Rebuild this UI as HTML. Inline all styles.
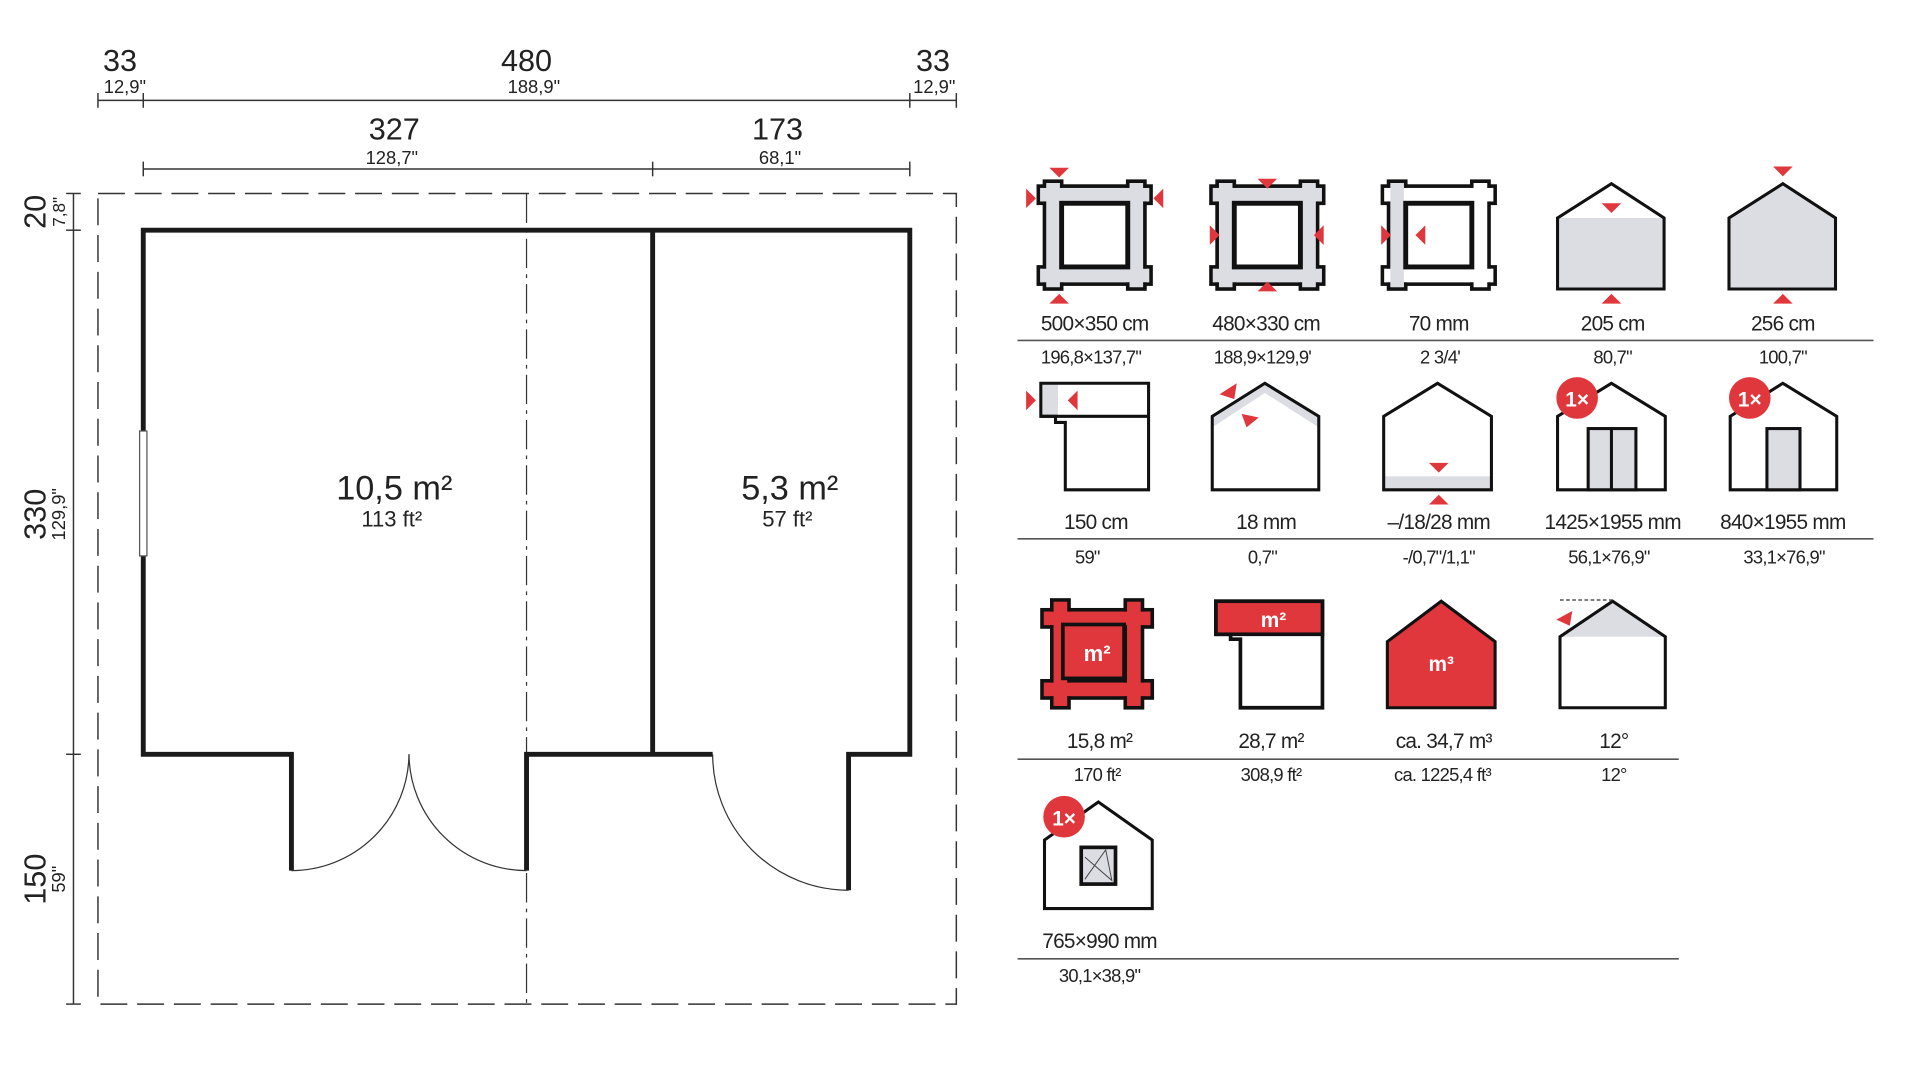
<!DOCTYPE html>
<html><head><meta charset="utf-8"><style>
html,body{margin:0;padding:0;background:#fff;width:1920px;height:1080px;overflow:hidden}
svg{display:block}
text{font-family:"Liberation Sans",sans-serif;fill:#222}
.lb{font-size:17px;text-anchor:middle;letter-spacing:-0.6px}
.sb{font-size:15px;text-anchor:middle;letter-spacing:-0.6px}
</style></head><body>
<svg width="1920" height="1080" viewBox="0 0 1568 882" preserveAspectRatio="none" xmlns="http://www.w3.org/2000/svg">
<defs>
<g id="frame">
<rect x="-46" y="-40" width="92" height="14" fill="#dcdde3" stroke="#111" stroke-width="3"/>
<rect x="-46" y="26" width="92" height="14" fill="#dcdde3" stroke="#111" stroke-width="3"/>
<rect x="-41" y="-44" width="14" height="88" fill="#dcdde3" stroke="#111" stroke-width="3"/>
<rect x="27" y="-44" width="14" height="88" fill="#dcdde3" stroke="#111" stroke-width="3"/>
<rect x="-44.5" y="-38.5" width="89" height="11" fill="#dcdde3"/>
<rect x="-44.5" y="27.5" width="89" height="11" fill="#dcdde3"/>
<rect x="-39.5" y="-42.5" width="11" height="85" fill="#dcdde3"/>
<rect x="28.5" y="-42.5" width="11" height="85" fill="#dcdde3"/>
<rect x="-27" y="-26" width="54" height="52" fill="#fff" stroke="#111" stroke-width="4"/>
</g>
</defs>
<!-- dimensions top -->
<g stroke="#333" stroke-width="1.2" fill="none">
<line x1="80" y1="82" x2="781" y2="82"/>
<line x1="80" y1="76" x2="80" y2="88"/><line x1="117" y1="76" x2="117" y2="88"/>
<line x1="743" y1="76" x2="743" y2="88"/><line x1="781" y1="76" x2="781" y2="88"/>
<line x1="117" y1="138" x2="743" y2="138"/>
<line x1="117" y1="132" x2="117" y2="144"/><line x1="533" y1="132" x2="533" y2="144"/><line x1="743" y1="132" x2="743" y2="144"/>
<line x1="60" y1="158" x2="60" y2="820"/>
<line x1="54" y1="158" x2="66" y2="158"/><line x1="54" y1="188" x2="66" y2="188"/>
<line x1="54" y1="616" x2="66" y2="616"/><line x1="54" y1="820" x2="66" y2="820"/>
</g>
<g style="font-size:25px" text-anchor="middle">
<text x="98" y="58">33</text><text x="430" y="58">480</text><text x="762" y="58">33</text>
<text x="322" y="114">327</text><text x="635" y="114">173</text>
</g>
<g style="font-size:15px" text-anchor="middle">
<text x="102" y="76">12,9"</text><text x="436" y="76">188,9"</text><text x="763" y="76">12,9"</text>
<text x="320" y="134">128,7"</text><text x="637" y="134">68,1"</text>
</g>
<g text-anchor="middle">
<text transform="translate(37,173) rotate(-90)" style="font-size:25px">20</text>
<text transform="translate(53,173) rotate(-90)" style="font-size:14px">7,8"</text>
<text transform="translate(37,420) rotate(-90)" style="font-size:25px">330</text>
<text transform="translate(53,420) rotate(-90)" style="font-size:15px">129,9"</text>
<text transform="translate(37,718) rotate(-90)" style="font-size:25px">150</text>
<text transform="translate(53,718) rotate(-90)" style="font-size:15px">59"</text>
</g>
<!-- dashed outline -->
<rect x="80" y="158" width="701" height="662" fill="none" stroke="#333" stroke-width="1.2" stroke-dasharray="22,8"/>
<line x1="430" y1="158" x2="430" y2="820" stroke="#333" stroke-width="1" stroke-dasharray="24,5,3,5"/>
<!-- walls -->
<g stroke="#1a1a1a" stroke-width="4" fill="none" stroke-linejoin="miter">
<path d="M238 711 L238 616 L117 616 L117 188 L743 188 L743 616 L693 616 L693 727"/>
<path d="M430 711 L430 616 L582 616"/>
<line x1="533" y1="188" x2="533" y2="616"/>
</g>
<g stroke="#333" stroke-width="1" fill="none">
<path d="M238 711 A96 96 0 0 0 334 616"/>
<path d="M430 711 A96 96 0 0 1 334 616"/>
<path d="M582 616 A111 111 0 0 0 693 727"/>
</g>
<rect x="114" y="352" width="6" height="102" fill="#fff" stroke="#555" stroke-width="1"/>
<text x="322" y="408" text-anchor="middle" style="font-size:28px">10,5 m²</text>
<text x="320" y="430" text-anchor="middle" style="font-size:18px">113 ft²</text>
<text x="645" y="408" text-anchor="middle" style="font-size:28px">5,3 m²</text>
<text x="643" y="430" text-anchor="middle" style="font-size:18px">57 ft²</text>

<!-- ICONS row 1 -->
<use href="#frame" x="894" y="192"/>
<use href="#frame" x="1035" y="192"/>
<g transform="translate(1175,192)">
<rect x="-46" y="-40" width="92" height="14" fill="#fff" stroke="#111" stroke-width="3"/>
<rect x="-46" y="26" width="92" height="14" fill="#fff" stroke="#111" stroke-width="3"/>
<rect x="-41" y="-44" width="14" height="88" fill="#fff" stroke="#111" stroke-width="3"/>
<rect x="27" y="-44" width="14" height="88" fill="#fff" stroke="#111" stroke-width="3"/>
<rect x="-44.5" y="-38.5" width="89" height="11" fill="#fff"/>
<rect x="-44.5" y="27.5" width="89" height="11" fill="#fff"/>
<rect x="-39.5" y="-42.5" width="11" height="85" fill="#dcdde3"/>
<rect x="28.5" y="-42.5" width="11" height="85" fill="#fff"/>
<rect x="-27" y="-26" width="54" height="52" fill="#fff" stroke="#111" stroke-width="4"/>
</g>
<g fill="#e0373d">
<path d="M857 137 L873 137 L865 145Z"/><path d="M857 248 L873 248 L865 240Z"/>
<path d="M838 154 L838 170 L846 162Z"/><path d="M950 154 L950 170 L942 162Z"/>
<path d="M1027 146 L1043 146 L1035 154Z"/><path d="M1027 238 L1043 238 L1035 230Z"/>
<path d="M988 184 L988 200 L996 192Z"/><path d="M1081 184 L1081 200 L1073 192Z"/>
<path d="M1128 184 L1128 200 L1136 192Z"/><path d="M1164 184 L1164 200 L1156 192Z"/>
</g>
<path d="M1272 178 L1359 178 L1359 236 L1272 236Z" fill="#dcdde3"/>
<path d="M1272 236 L1272 178 L1316 150 L1359 178 L1359 236Z" fill="none" stroke="#111" stroke-width="2.5"/>
<path d="M1412 236 L1412 178 L1456 150 L1499 178 L1499 236Z" fill="#dcdde3" stroke="#111" stroke-width="2.5"/>
<g fill="#e0373d">
<path d="M1308 166 L1324 166 L1316 174Z"/><path d="M1308 248 L1324 248 L1316 240Z"/>
<path d="M1448 136 L1464 136 L1456 144Z"/><path d="M1448 248 L1464 248 L1456 240Z"/>
</g>
<text class="lb" x="894" y="270">500×350 cm</text><text class="lb" x="1034" y="270">480×330 cm</text>
<text class="lb" x="1175" y="270">70 mm</text><text class="lb" x="1317" y="270">205 cm</text><text class="lb" x="1456" y="270">256 cm</text>
<line x1="831" y1="278" x2="1530" y2="278" stroke="#555" stroke-width="1.3"/>
<text class="sb" x="891" y="297">196,8×137,7"</text><text class="sb" x="1031" y="297">188,9×129,9'</text>
<text class="sb" x="1176" y="297">2  3/4'</text><text class="sb" x="1317" y="297">80,7"</text><text class="sb" x="1456" y="297">100,7"</text>

<!-- row 2 -->
<rect x="850" y="313" width="14" height="27" fill="#dcdde3"/>
<path d="M850 313 L938 313 L938 400 L870 400 L870 345 L862 345 L862 340 L850 340Z" fill="none" stroke="#111" stroke-width="2.5"/>
<line x1="850" y1="340" x2="938" y2="340" stroke="#111" stroke-width="2.5"/>
<g fill="#e0373d"><path d="M838 319 L838 335 L846 327Z"/><path d="M880 319 L880 335 L872 327Z"/></g>
<path d="M990 340 L1033 313 L1077 340 L1077 349 L1033 321 L990 349Z" fill="#dcdde3"/>
<path d="M990 400 L990 340 L1033 313 L1077 340 L1077 400Z" fill="none" stroke="#111" stroke-width="2.5"/>
<g fill="#e0373d"><path d="M996 322 L1010 313 L1008 326Z"/><path d="M1014 338 L1028 341 L1018 349Z"/></g>
<rect x="1131" y="389" width="86" height="10" fill="#dcdde3"/>
<path d="M1130 400 L1130 340 L1174 313 L1218 340 L1218 400Z" fill="none" stroke="#111" stroke-width="2.5"/>
<g fill="#e0373d"><path d="M1167 378 L1183 378 L1175 386Z"/><path d="M1167 412 L1183 412 L1175 404Z"/></g>
<path d="M1272 400 L1272 340 L1316 313 L1360 340 L1360 400Z" fill="none" stroke="#111" stroke-width="2.5"/>
<rect x="1297" y="350" width="39" height="50" fill="#dcdde3" stroke="#111" stroke-width="2.5"/>
<line x1="1316" y1="350" x2="1316" y2="400" stroke="#111" stroke-width="2.5"/>
<path d="M1413 400 L1413 340 L1456 313 L1500 340 L1500 400Z" fill="none" stroke="#111" stroke-width="2.5"/>
<rect x="1443" y="350" width="27" height="50" fill="#dcdde3" stroke="#111" stroke-width="2.5"/>
<circle cx="1288" cy="325" r="17" fill="#e0373d"/><text x="1288" y="332" text-anchor="middle" style="font-size:17px;fill:#fff;font-weight:bold">1×</text>
<circle cx="1429" cy="325" r="17" fill="#e0373d"/><text x="1429" y="332" text-anchor="middle" style="font-size:17px;fill:#fff;font-weight:bold">1×</text>
<text class="lb" x="895" y="432">150 cm</text><text class="lb" x="1034" y="432">18 mm</text>
<text class="lb" x="1175" y="432">–/18/28 mm</text><text class="lb" x="1317" y="432">1425×1955 mm</text><text class="lb" x="1456" y="432">840×1955 mm</text>
<line x1="831" y1="440" x2="1530" y2="440" stroke="#555" stroke-width="1.3"/>
<text class="sb" x="888" y="460">59"</text><text class="sb" x="1031" y="460">0,7"</text>
<text class="sb" x="1175" y="460">-/0,7"/1,1"</text><text class="sb" x="1314" y="460">56,1×76,9"</text><text class="sb" x="1457" y="460">33,1×76,9"</text>

<!-- row 3 -->
<g transform="translate(896,534)">
<rect x="-45" y="-36" width="90" height="14" fill="#e0373d" stroke="#111" stroke-width="3"/>
<rect x="-45" y="22" width="90" height="14" fill="#e0373d" stroke="#111" stroke-width="3"/>
<rect x="-37" y="-44" width="14" height="88" fill="#e0373d" stroke="#111" stroke-width="3"/>
<rect x="23" y="-44" width="14" height="88" fill="#e0373d" stroke="#111" stroke-width="3"/>
<rect x="-43.5" y="-34.5" width="87" height="11" fill="#e0373d"/>
<rect x="-43.5" y="23.5" width="87" height="11" fill="#e0373d"/>
<rect x="-35.5" y="-42.5" width="11" height="85" fill="#e0373d"/>
<rect x="24.5" y="-42.5" width="11" height="85" fill="#e0373d"/>
<rect x="-28" y="-24" width="50" height="44" fill="#e0373d" stroke="#111" stroke-width="3"/>
<text x="0" y="6" text-anchor="middle" style="font-size:18px;fill:#fff;font-weight:bold">m²</text>
</g>
<path d="M993 491 L1080 491 L1080 578 L1013 578 L1013 522 L1005 522 L1005 518 L993 518Z" fill="none" stroke="#111" stroke-width="3"/>
<rect x="993" y="491" width="87" height="27" fill="#e0373d" stroke="#111" stroke-width="3"/>
<text x="1040" y="512" text-anchor="middle" style="font-size:17px;fill:#fff;font-weight:bold">m²</text>
<path d="M1133 578 L1133 524 L1177 491 L1221 524 L1221 578Z" fill="#e0373d" stroke="#111" stroke-width="2.5"/>
<text x="1177" y="548" text-anchor="middle" style="font-size:17px;fill:#fff;font-weight:bold">m³</text>
<path d="M1274 520 L1317 491 L1360 520Z" fill="#dcdde3"/>
<path d="M1274 578 L1274 520 L1317 491 L1360 520 L1360 578Z" fill="none" stroke="#111" stroke-width="2.5"/>
<line x1="1274" y1="490" x2="1317" y2="490" stroke="#333" stroke-width="1" stroke-dasharray="3,2"/>
<path d="M1271 506 L1284 499 L1282 511Z" fill="#e0373d"/>
<text class="lb" x="898" y="611">15,8 m²</text><text class="lb" x="1038" y="611">28,7 m²</text>
<text class="lb" x="1179" y="611">ca. 34,7 m³</text><text class="lb" x="1318" y="611">12°</text>
<line x1="831" y1="620" x2="1371" y2="620" stroke="#555" stroke-width="1.3"/>
<text class="sb" x="896" y="638">170 ft²</text><text class="sb" x="1038" y="638">308,9 ft²</text>
<text class="sb" x="1178" y="638">ca. 1225,4 ft³</text><text class="sb" x="1318" y="638">12°</text>

<!-- row 4 -->
<path d="M853 742 L853 686 L897 655 L941 686 L941 742Z" fill="none" stroke="#111" stroke-width="2.5"/>
<rect x="883" y="692" width="28" height="30" fill="#dcdde3" stroke="#111" stroke-width="3"/>
<path d="M886 718 L903 694 L908 719 L886 700" fill="none" stroke="#444" stroke-width="0.8"/>
<circle cx="869" cy="667" r="17" fill="#e0373d"/><text x="869" y="674" text-anchor="middle" style="font-size:17px;fill:#fff;font-weight:bold">1×</text>
<text class="lb" x="898" y="774">765×990 mm</text>
<line x1="831" y1="783" x2="1371" y2="783" stroke="#555" stroke-width="1.3"/>
<text class="sb" x="898" y="802">30,1×38,9"</text>
</svg>
</body></html>
